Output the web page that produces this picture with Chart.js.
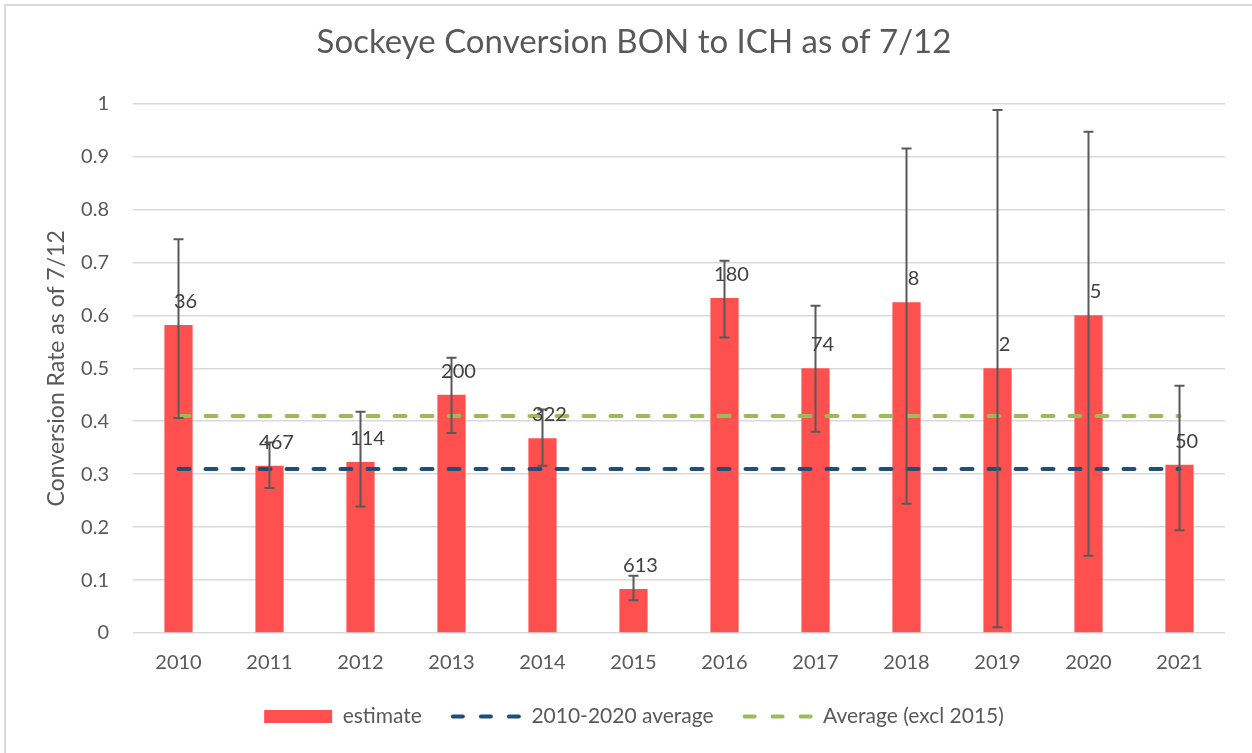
<!DOCTYPE html>
<html>
<head>
<meta charset="utf-8">
<script src="https://cdn.jsdelivr.net/npm/chart.js@4/dist/chart.umd.min.js"></script>
<style>
    html, body { margin: 0; padding: 0; background: #fff; overflow: hidden; }
    #wrap {
        position: absolute;
        left: 4px;
        top: 4px;
        width: 1246px;
        height: 747px;
        border-left: 2px solid #d9d9d9;
        border-top: 2px solid #d9d9d9;
    }
</style>
</head>
<body>
<div id="wrap"><canvas id="myChart"></canvas></div>
<script>
const years = ["2010", "2011", "2012", "2013", "2014", "2015", "2016", "2017", "2018", "2019", "2020", "2021"];
const estimate = [0.582, 0.316, 0.323, 0.45, 0.368, 0.083, 0.633, 0.5, 0.625, 0.5, 0.6, 0.318];
const errHigh = [0.744, 0.36, 0.418, 0.52, 0.422, 0.108, 0.703, 0.618, 0.915, 0.988, 0.947, 0.467];
const errLow = [0.406, 0.274, 0.239, 0.378, 0.316, 0.062, 0.558, 0.38, 0.244, 0.011, 0.146, 0.194];
const sampleSize = ["36", "467", "114", "200", "322", "613", "180", "74", "8", "2", "5", "50"];
const avg2010to2020 = [0.31, 0.31, 0.31, 0.31, 0.31, 0.31, 0.31, 0.31, 0.31, 0.31, 0.31, 0.31];
const avgExcl2015 = [0.41, 0.41, 0.41, 0.41, 0.41, 0.41, 0.41, 0.41, 0.41, 0.41, 0.41, 0.41];

const textColor = "#595959";
const fontName = "Lato, 'Open Sans', sans-serif";

// error bars + sample size labels on the estimate bars
const errorBars = {
    id: "errorBars",
    afterDatasetsDraw(chart) {
        const meta = chart.getDatasetMeta(0);
        const y = chart.scales.y;
        const c = chart.ctx;
        c.save();
        c.strokeStyle = "#595959";
        c.lineWidth = 2;
        meta.data.forEach((bar, i) => {
            const top = y.getPixelForValue(errHigh[i]);
            const bottom = y.getPixelForValue(errLow[i]);
            c.beginPath();
            c.moveTo(bar.x, top);
            c.lineTo(bar.x, bottom);
            c.moveTo(bar.x - 5, top);
            c.lineTo(bar.x + 5, top);
            c.moveTo(bar.x - 5, bottom);
            c.lineTo(bar.x + 5, bottom);
            c.stroke();
        });
        c.fillStyle = "#404040";
        c.font = "20px " + fontName;
        c.textAlign = "center";
        c.textBaseline = "alphabetic";
        meta.data.forEach((bar, i) => {
            c.fillText(sampleSize[i], bar.x + 7, bar.y - 17);
        });
        c.restore();
    }
};

const ctx = document.getElementById("myChart").getContext("2d");
let myChart = new Chart(ctx, {
    type: "bar",
    data: {
        labels: years,
        datasets: [
            {
                label: "estimate",
                data: estimate,
                backgroundColor: "#FF5050",
                borderWidth: 0,
                categoryPercentage: 1,
                barPercentage: 0.31,
                pointStyle: "rect",
                order: 3,
            },
            {
                type: "line",
                label: "2010-2020 average",
                data: avg2010to2020,
                borderColor: "#1F4E79",
                backgroundColor: "#1F4E79",
                borderWidth: 4,
                borderDash: [11, 16],
                borderCapStyle: "round",
                pointRadius: 0,
                pointStyle: "line",
                fill: false,
                order: 2,
            },
            {
                type: "line",
                label: "Average (excl 2015)",
                data: avgExcl2015,
                borderColor: "#9BBB59",
                backgroundColor: "#9BBB59",
                borderWidth: 4,
                borderDash: [11, 16],
                borderCapStyle: "round",
                pointRadius: 0,
                pointStyle: "line",
                fill: false,
                order: 1,
            },
        ],
    },
    options: {
        responsive: true,
        maintainAspectRatio: false,
        animation: false,
        plugins: {
            title: {
                display: true,
                text: "Sockeye Conversion BON to ICH as of 7/12",
                color: textColor,
                font: { family: fontName, size: 33, weight: "normal" },
                padding: { top: 17, bottom: 41 },
            },
            legend: {
                position: "bottom",
                labels: {
                    usePointStyle: true,
                    pointStyleWidth: 68,
                    boxWidth: 68,
                    boxHeight: 13,
                    padding: 31,
                    color: textColor,
                    font: { family: fontName, size: 21 },
                    sort: (a, b) => a.datasetIndex - b.datasetIndex,
                    generateLabels(chart) {
                        const items = Chart.defaults.plugins.legend.labels.generateLabels(chart);
                        items.forEach((item) => {
                            if (item.pointStyle === "line") {
                                item.lineDash = [10, 18];
                                item.lineCap = "round";
                            }
                        });
                        return items;
                    },
                },
            },
            tooltip: { enabled: false },
        },
        scales: {
            x: {
                grid: { display: false },
                border: { display: false },
                ticks: {
                    color: textColor,
                    font: { family: fontName, size: 20 },
                    padding: 10,
                },
                afterFit: (scale) => { scale.height = 42; },
            },
            y: {
                min: 0,
                max: 1,
                grid: { color: "#d9d9d9", lineWidth: 1.5, drawTicks: false },
                border: { display: false },
                ticks: {
                    stepSize: 0.1,
                    color: textColor,
                    font: { family: fontName, size: 20 },
                    padding: 24,
                    callback: (v) => String(Math.round(v * 10) / 10),
                },
                title: {
                    display: true,
                    text: "Conversion Rate as of 7/12",
                    color: textColor,
                    font: { family: fontName, size: 23 },
                    padding: { top: 0, bottom: 0 },
                },
                afterFit: (scale) => { scale.width = 90; },
            },
        },
        layout: {
            padding: { top: 0, right: 27, bottom: 16, left: 37 },
        },
    },
    plugins: [errorBars],
});
</script>
</body>
</html>
